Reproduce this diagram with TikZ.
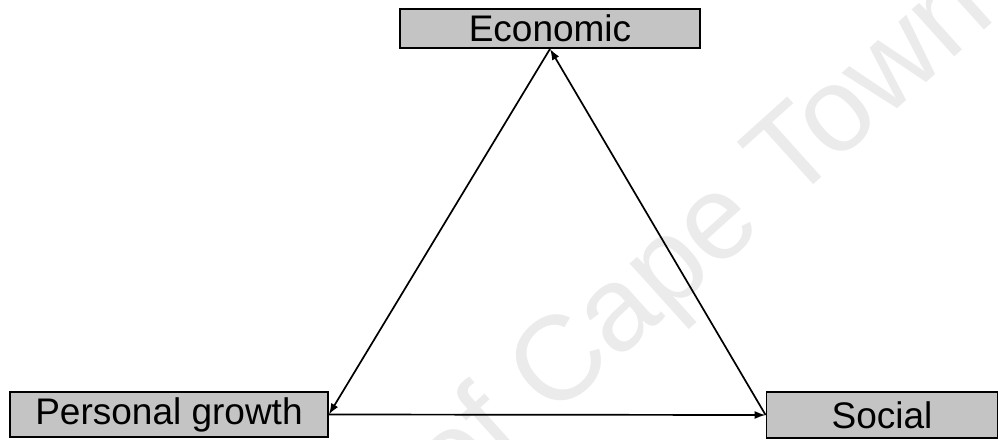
\documentclass[tikz,border=0pt]{standalone}
\usepackage{fontspec}
\setmainfont{Liberation Sans}
\usetikzlibrary{arrows.meta}
\definecolor{boxgray}{HTML}{C4C4C4}
\definecolor{wmgray}{HTML}{EBEBEB}
\tikzset{
  labelbox/.style={draw=black, line width=1.8pt, fill=boxgray, rectangle, inner sep=0pt,
    font=\fontsize{37}{40}\selectfont, text=black},
  link/.style={line width=1.7pt, -{Latex[length=11pt,width=8pt]}}
}
\begin{document}
\begin{tikzpicture}[x=1pt,y=-1pt]
\useasboundingbox (0,0) rectangle (998,439);
\begin{scope}
\clip (0,0) rectangle (998,439);
\node[text=wmgray, font=\fontsize{120}{120}\selectfont, rotate=42] (wm) at (705,240) {of Cape Town};
\end{scope}
\node[labelbox, minimum width=300pt, minimum height=39pt] (econ) at (550,28.5) {Economic};
\node[labelbox, minimum width=318pt, minimum height=45pt] (pers) at (169,414.5) {Personal growth};
\node[labelbox, minimum width=231pt, minimum height=46pt] (soc) at (882,415) {Social};
\draw[link] (econ.south) -- (pers.east);
\draw[link] (pers.east) -- (soc.west);
\draw[link] (soc.west) -- (econ.south);
\end{tikzpicture}
\end{document}
